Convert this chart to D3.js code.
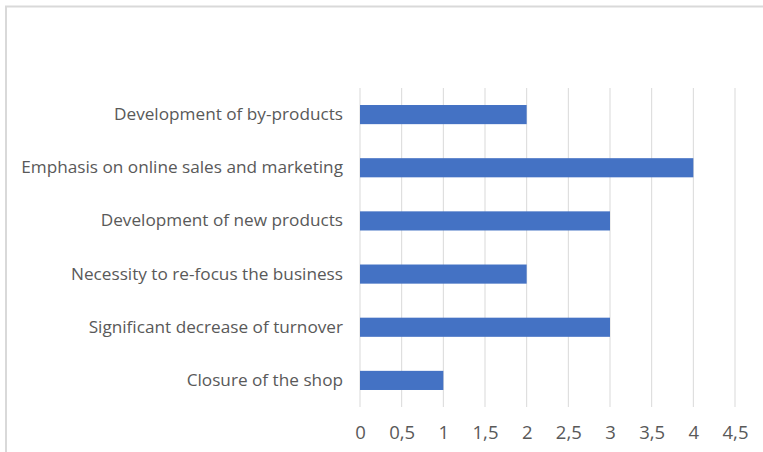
<!DOCTYPE html>
<html>
<head>
<meta charset="utf-8">
<script src="https://cdn.jsdelivr.net/npm/d3@7"></script>
<style>
  html, body { margin: 0; padding: 0; background: #fff; }
  svg { display: block; }
  text { font-family: "Open Sans", "Liberation Sans", sans-serif; fill: #595959; }
</style>
</head>
<body>
<svg id="chart" width="763" height="452"></svg>
<script>
// Reasons listed top to bottom, with their counts
const categories = [
  "Development of by-products",
  "Emphasis on online sales and marketing",
  "Development of new products",
  "Necessity to re-focus the business",
  "Significant decrease of turnover",
  "Closure of the shop"
];
const values = [2, 4, 3, 2, 3, 1];
const tickValues = [0, 0.5, 1, 1.5, 2, 2.5, 3, 3.5, 4, 4.5];
const tickLabels = ["0", "0,5", "1", "1,5", "2", "2,5", "3", "3,5", "4", "4,5"];

const svg = d3.select("#chart");
const W = 763, H = 452;
const plot = { left: 360, right: 735, top: 88, bottom: 407 };

// Outer chart frame (top and left edges)
svg.append("path")
  .attr("d", `M6,${H} V6.5 H${W}`)
  .attr("fill", "none")
  .attr("stroke", "#d9d9d9")
  .attr("stroke-width", 2);

const x = d3.scaleLinear().domain([0, 4.5]).range([plot.left, plot.right]);
const y = d3.scaleBand().domain(categories).range([plot.top, plot.bottom]).paddingInner(0.64).paddingOuter(0.32);

// Vertical gridlines
svg.append("g")
  .selectAll("line")
  .data(tickValues)
  .join("line")
  .attr("x1", d => x(d)).attr("x2", d => x(d))
  .attr("y1", plot.top).attr("y2", plot.bottom)
  .attr("stroke", "#d9d9d9")
  .attr("stroke-width", 1);

// Bars
svg.append("g")
  .selectAll("rect")
  .data(categories)
  .join("rect")
  .attr("x", x(0))
  .attr("y", d => y(d))
  .attr("width", (d, i) => x(values[i]) - x(0))
  .attr("height", y.bandwidth())
  .attr("fill", "#4472c4");

// Category labels
const yAxis = d3.axisLeft(y).tickSize(0).tickPadding(17);
const gy = svg.append("g").attr("transform", `translate(${plot.left},0)`).call(yAxis);
gy.select(".domain").remove();
gy.selectAll("text").attr("font-size", 17.2).style("fill", "#595959").attr("font-family", null);

// Value axis labels
const xAxis = d3.axisBottom(x).tickValues(tickValues).tickSize(0).tickPadding(19)
  .tickFormat((d, i) => tickLabels[i]);
const gx = svg.append("g").attr("transform", `translate(0,${plot.bottom})`).call(xAxis);
gx.select(".domain").remove();
gx.selectAll("text").attr("font-size", 18.5).style("fill", "#595959").attr("font-family", null);
</script>
</body>
</html>
